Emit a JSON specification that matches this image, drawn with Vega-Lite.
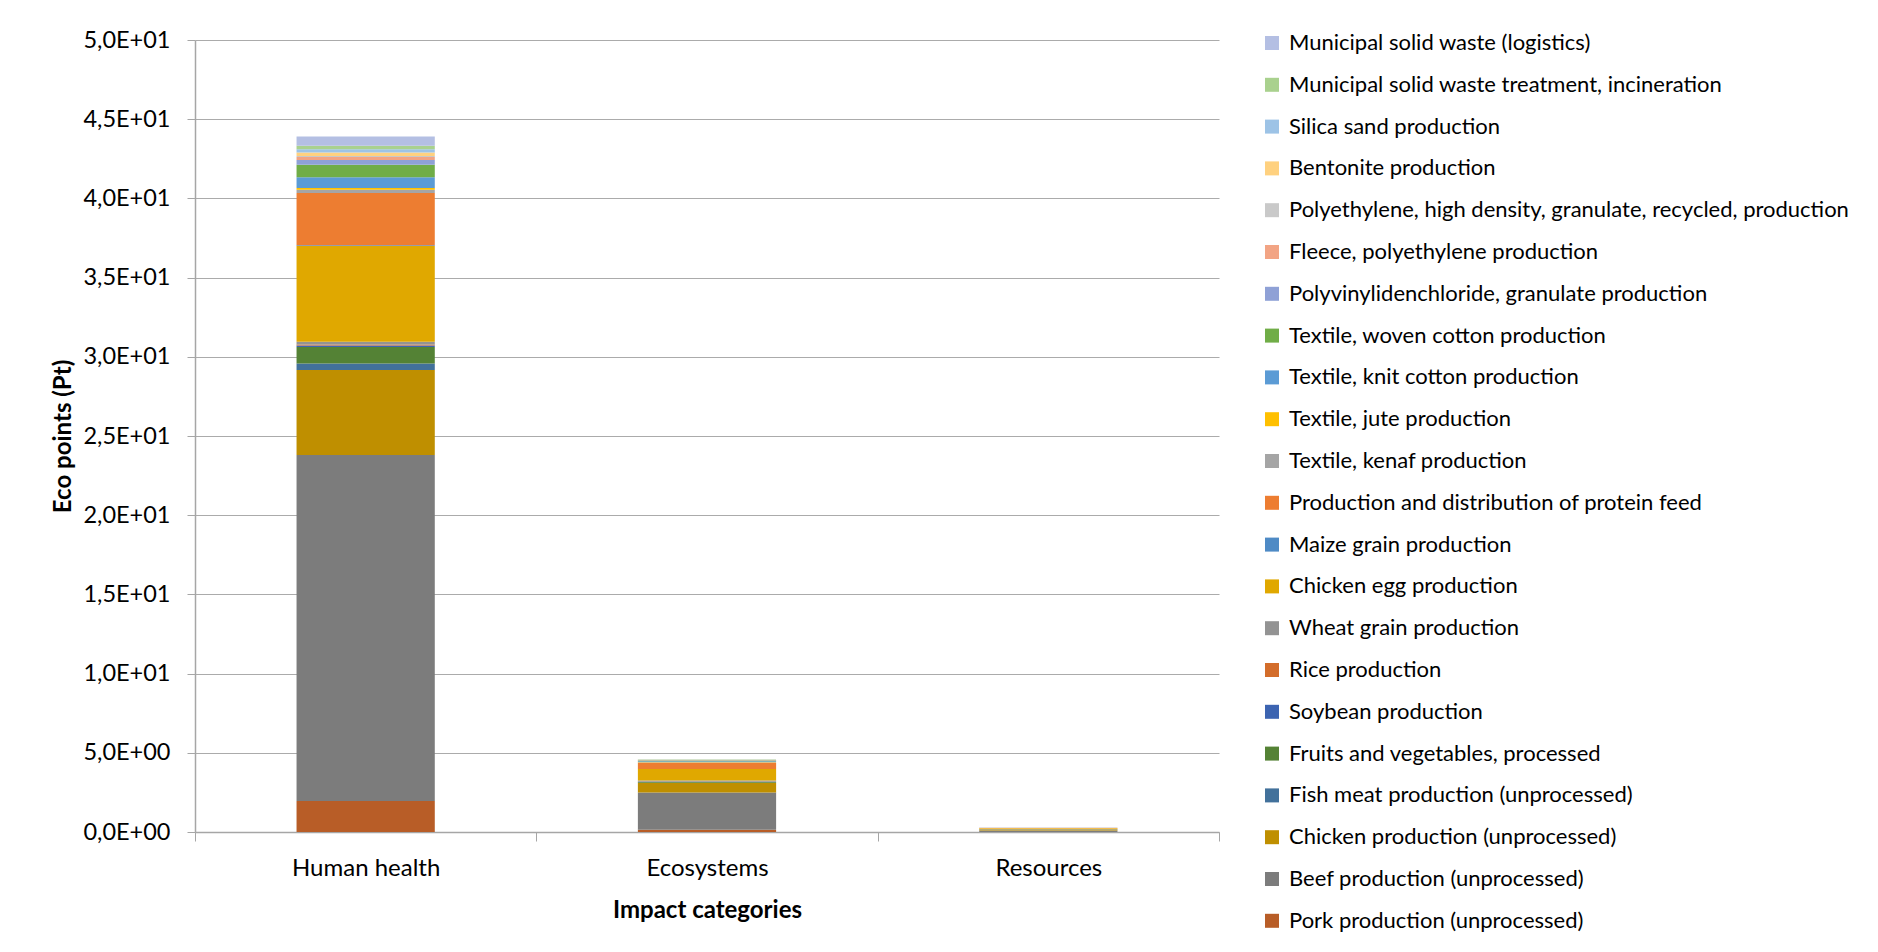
{
  "$schema": "https://vega.github.io/schema/vega-lite/v6.json",
  "width": 1024,
  "height": 792,
  "autosize": "none",
  "padding": {"left": 195, "top": 40, "right": 659, "bottom": 120},
  "background": "white",
  "config": {
    "font": "Lato",
    "view": {"stroke": null},
    "axis": {"labelFont": "Lato", "titleFont": "Lato", "labelColor": "#000000", "titleColor": "#000000"},
    "legend": {"labelFont": "Lato"}
  },
  "data": {
    "values": [
      {"category": "Human health", "source": "Pork production (unprocessed)", "value": 1.96, "o": 1},
      {"category": "Human health", "source": "Beef production (unprocessed)", "value": 21.84, "o": 2},
      {"category": "Human health", "source": "Chicken production (unprocessed)", "value": 5.37, "o": 3},
      {"category": "Human health", "source": "Fish meat production (unprocessed)", "value": 0.40, "o": 4},
      {"category": "Human health", "source": "Fruits and vegetables, processed", "value": 1.05, "o": 5},
      {"category": "Human health", "source": "Soybean production", "value": 0.10, "o": 6},
      {"category": "Human health", "source": "Rice production", "value": 0.06, "o": 7},
      {"category": "Human health", "source": "Wheat grain production", "value": 0.17, "o": 8},
      {"category": "Human health", "source": "Chicken egg production", "value": 6.05, "o": 9},
      {"category": "Human health", "source": "Maize grain production", "value": 0.04, "o": 10},
      {"category": "Human health", "source": "Production and distribution of protein feed", "value": 3.30, "o": 11},
      {"category": "Human health", "source": "Textile, kenaf production", "value": 0.21, "o": 12},
      {"category": "Human health", "source": "Textile, jute production", "value": 0.11, "o": 13},
      {"category": "Human health", "source": "Textile, knit cotton production", "value": 0.67, "o": 14},
      {"category": "Human health", "source": "Textile, woven cotton production", "value": 0.79, "o": 15},
      {"category": "Human health", "source": "Polyvinylidenchloride, granulate  production", "value": 0.31, "o": 16},
      {"category": "Human health", "source": "Fleece, polyethylene production", "value": 0.19, "o": 17},
      {"category": "Human health", "source": "Polyethylene, high density, granulate, recycled, production", "value": 0.05, "o": 18},
      {"category": "Human health", "source": "Bentonite production", "value": 0.23, "o": 19},
      {"category": "Human health", "source": "Silica sand production", "value": 0.20, "o": 20},
      {"category": "Human health", "source": "Municipal solid waste treatment, incineration", "value": 0.23, "o": 21},
      {"category": "Human health", "source": "Municipal solid waste (logistics)", "value": 0.57, "o": 22},

      {"category": "Ecosystems", "source": "Pork production (unprocessed)", "value": 0.14, "o": 1},
      {"category": "Ecosystems", "source": "Beef production (unprocessed)", "value": 2.35, "o": 2},
      {"category": "Ecosystems", "source": "Chicken production (unprocessed)", "value": 0.60, "o": 3},
      {"category": "Ecosystems", "source": "Fish meat production (unprocessed)", "value": 0.02, "o": 4},
      {"category": "Ecosystems", "source": "Fruits and vegetables, processed", "value": 0.04, "o": 5},
      {"category": "Ecosystems", "source": "Soybean production", "value": 0.01, "o": 6},
      {"category": "Ecosystems", "source": "Rice production", "value": 0.01, "o": 7},
      {"category": "Ecosystems", "source": "Wheat grain production", "value": 0.08, "o": 8},
      {"category": "Ecosystems", "source": "Chicken egg production", "value": 0.72, "o": 9},
      {"category": "Ecosystems", "source": "Maize grain production", "value": 0.01, "o": 10},
      {"category": "Ecosystems", "source": "Production and distribution of protein feed", "value": 0.39, "o": 11},
      {"category": "Ecosystems", "source": "Textile, kenaf production", "value": 0.03, "o": 12},
      {"category": "Ecosystems", "source": "Textile, jute production", "value": 0.02, "o": 13},
      {"category": "Ecosystems", "source": "Textile, knit cotton production", "value": 0.04, "o": 14},
      {"category": "Ecosystems", "source": "Textile, woven cotton production", "value": 0.06, "o": 15},
      {"category": "Ecosystems", "source": "Polyvinylidenchloride, granulate  production", "value": 0.01, "o": 16},
      {"category": "Ecosystems", "source": "Fleece, polyethylene production", "value": 0.01, "o": 17},
      {"category": "Ecosystems", "source": "Polyethylene, high density, granulate, recycled, production", "value": 0.01, "o": 18},
      {"category": "Ecosystems", "source": "Bentonite production", "value": 0.01, "o": 19},
      {"category": "Ecosystems", "source": "Silica sand production", "value": 0.01, "o": 20},
      {"category": "Ecosystems", "source": "Municipal solid waste treatment, incineration", "value": 0.02, "o": 21},
      {"category": "Ecosystems", "source": "Municipal solid waste (logistics)", "value": 0.01, "o": 22},

      {"category": "Resources", "source": "Pork production (unprocessed)", "value": 0.005, "o": 1},
      {"category": "Resources", "source": "Beef production (unprocessed)", "value": 0.09, "o": 2},
      {"category": "Resources", "source": "Chicken production (unprocessed)", "value": 0.06, "o": 3},
      {"category": "Resources", "source": "Fish meat production (unprocessed)", "value": 0.005, "o": 4},
      {"category": "Resources", "source": "Fruits and vegetables, processed", "value": 0.01, "o": 5},
      {"category": "Resources", "source": "Soybean production", "value": 0.003, "o": 6},
      {"category": "Resources", "source": "Rice production", "value": 0.003, "o": 7},
      {"category": "Resources", "source": "Wheat grain production", "value": 0.02, "o": 8},
      {"category": "Resources", "source": "Chicken egg production", "value": 0.02, "o": 9},
      {"category": "Resources", "source": "Maize grain production", "value": 0.003, "o": 10},
      {"category": "Resources", "source": "Production and distribution of protein feed", "value": 0.02, "o": 11},
      {"category": "Resources", "source": "Textile, kenaf production", "value": 0.003, "o": 12},
      {"category": "Resources", "source": "Textile, jute production", "value": 0.003, "o": 13},
      {"category": "Resources", "source": "Textile, knit cotton production", "value": 0.005, "o": 14},
      {"category": "Resources", "source": "Textile, woven cotton production", "value": 0.005, "o": 15},
      {"category": "Resources", "source": "Polyvinylidenchloride, granulate  production", "value": 0.003, "o": 16},
      {"category": "Resources", "source": "Fleece, polyethylene production", "value": 0.003, "o": 17},
      {"category": "Resources", "source": "Polyethylene, high density, granulate, recycled, production", "value": 0.01, "o": 18},
      {"category": "Resources", "source": "Bentonite production", "value": 0.003, "o": 19},
      {"category": "Resources", "source": "Silica sand production", "value": 0.003, "o": 20},
      {"category": "Resources", "source": "Municipal solid waste treatment, incineration", "value": 0.005, "o": 21},
      {"category": "Resources", "source": "Municipal solid waste (logistics)", "value": 0.005, "o": 22}
    ]
  },
  "mark": {"type": "bar", "width": {"band": 0.405}},
  "encoding": {
    "x": {
      "field": "category",
      "type": "nominal",
      "sort": ["Human health", "Ecosystems", "Resources"],
      "scale": {"paddingInner": 0, "paddingOuter": 0},
      "axis": {
        "title": "Impact categories",
        "titleFontSize": 24,
        "titleFontWeight": "bold",
        "titlePadding": 18,
        "labelFontSize": 24,
        "labelAngle": 0,
        "labelPadding": 15,
        "bandPosition": 0,
        "tickBand": "extent",
        "ticks": true,
        "tickSize": 9,
        "tickColor": "#A6A6A6",
        "domainColor": "#A6A6A6",
        "domainWidth": 1.5,
        "grid": false
      }
    },
    "y": {
      "field": "value",
      "type": "quantitative",
      "stack": "zero",
      "scale": {"domain": [0, 50], "nice": false},
      "axis": {
        "title": "Eco points (Pt)",
        "titleFontSize": 24,
        "titleFontWeight": "bold",
        "titlePadding": 7,
        "labelFontSize": 23.5,
        "labelPadding": 17,
        "values": [0, 5, 10, 15, 20, 25, 30, 35, 40, 45, 50],
        "labelExpr": "datum.value >= 10 ? replace(format(datum.value / 10, '.1f'), '.', ',') + 'E+01' : replace(format(datum.value, '.1f'), '.', ',') + 'E+00'",
        "tickSize": 8,
        "tickColor": "#A6A6A6",
        "domainColor": "#A6A6A6",
        "domainWidth": 1.5,
        "grid": true,
        "gridColor": "#ABABAB",
        "gridWidth": 1.2
      }
    },
    "order": {"field": "o", "type": "quantitative", "sort": "ascending"},
    "color": {
      "field": "source",
      "type": "nominal",
      "scale": {
        "domain": [
          "Municipal solid waste (logistics)",
          "Municipal solid waste treatment, incineration",
          "Silica sand production",
          "Bentonite production",
          "Polyethylene, high density, granulate, recycled, production",
          "Fleece, polyethylene production",
          "Polyvinylidenchloride, granulate  production",
          "Textile, woven cotton production",
          "Textile, knit cotton production",
          "Textile, jute production",
          "Textile, kenaf production",
          "Production and distribution of protein feed",
          "Maize grain production",
          "Chicken egg production",
          "Wheat grain production",
          "Rice production",
          "Soybean production",
          "Fruits and vegetables, processed",
          "Fish meat production (unprocessed)",
          "Chicken production (unprocessed)",
          "Beef production (unprocessed)",
          "Pork production (unprocessed)"
        ],
        "range": [
          "#B4BFE3", "#A9D18E", "#9DC3E6", "#FFD17F", "#C9C9C9", "#F2A484",
          "#8FA1D6", "#70AD47", "#5B9BD5", "#FFC000", "#A5A5A5", "#ED7D31",
          "#4E8AC5", "#E0A800", "#939393", "#D36D2B", "#3C64B1", "#548235",
          "#42719B", "#BF8F00", "#7C7C7C", "#B85D27"
        ]
      },
      "legend": {
        "title": null,
        "orient": "none",
        "legendX": 1066,
        "legendY": -8,
        "padding": 0,
        "symbolType": "square",
        "symbolSize": 196,
        "symbolStrokeWidth": 0,
        "labelFontSize": 22,
        "labelOffset": 6,
        "labelLimit": 700,
        "rowPadding": 19.8,
        "labelColor": "#000000"
      }
    }
  }
}
